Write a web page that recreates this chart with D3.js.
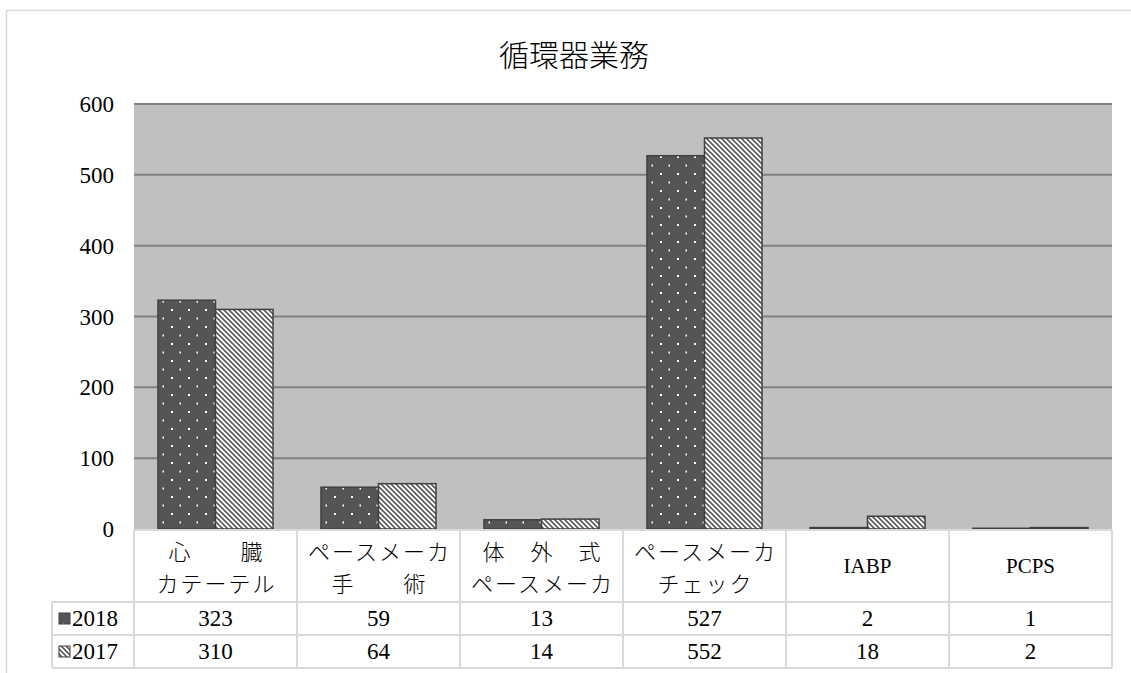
<!DOCTYPE html>
<html>
<head>
<meta charset="utf-8">
<script src="https://cdn.jsdelivr.net/npm/d3@7"></script>
<style>
  html, body { margin: 0; padding: 0; background: #fff; }
  svg { display: block; }
</style>
</head>
<body>
<svg id="chart" width="1131" height="673"></svg>
<script>
// 循環器業務: 2018年と2017年の件数
const chartTitle = "循環器業務";
const categories = ["心臓カテーテル", "ペースメーカ手術", "体外式ペースメーカ", "ペースメーカチェック", "IABP", "PCPS"];
// table header lines for each category
const headerLines = [
  ["心　　臓", "カテーテル"],
  ["ペースメーカ", "手　　術"],
  ["体　外　式", "ペースメーカ"],
  ["ペースメーカ", "チェック"],
  ["IABP"],
  ["PCPS"]
];
const seriesNames = ["2018", "2017"];
const values2018 = [323, 59, 13, 527, 2, 1];
const values2017 = [310, 64, 14, 552, 18, 2];
const yTicks = [0, 100, 200, 300, 400, 500, 600];

const SERIF = "'Liberation Serif'";
const JP = "'Noto Sans CJK JP'";

const svg = d3.select("#chart");
const defs = svg.append("defs");

// dotted fill for 2018
const dots = defs.append("pattern").attr("id", "dots").attr("patternUnits", "userSpaceOnUse")
  .attr("width", 17).attr("height", 17);
dots.append("rect").attr("width", 17).attr("height", 17).attr("fill", "#555555");
dots.append("rect").attr("x", 3).attr("y", 3).attr("width", 2).attr("height", 2).attr("fill", "#ffffff");
dots.append("rect").attr("x", 11.5).attr("y", 11.5).attr("width", 1.5).attr("height", 2).attr("fill", "#ffffff");

// diagonal stripes for 2017
const stripes = defs.append("pattern").attr("id", "stripes").attr("patternUnits", "userSpaceOnUse")
  .attr("width", 5).attr("height", 5);
stripes.append("rect").attr("width", 5).attr("height", 5).attr("fill", "#ffffff");
stripes.append("path").attr("d", "M-1,-1 L6,6 M-1,4 L1,6 M4,-1 L6,1")
  .attr("stroke", "#5a5a5a").attr("stroke-width", 1.6);

const fills = { "2018": "url(#dots)", "2017": "url(#stripes)" };
const seriesData = { "2018": values2018, "2017": values2017 };

// outer chart frame
svg.append("rect").attr("x", 6.5).attr("y", 10.5).attr("width", 1140).attr("height", 700)
  .attr("fill", "none").attr("stroke", "#d9d9d9").attr("stroke-width", 1.5);

// title
svg.append("text").attr("font-family", JP).attr("font-weight", 300)
  .attr("x", 574).attr("y", 66)
  .attr("text-anchor", "middle").attr("font-size", 30).attr("fill", "#000")
  .text(chartTitle);

const plot = { left: 134, right: 1112, top: 104, bottom: 529 };

const x0 = d3.scaleBand().domain(categories).range([plot.left, plot.right]).paddingInner(0).paddingOuter(0);
const x1 = d3.scaleBand().domain(seriesNames).range([0, x0.bandwidth()]).paddingInner(0).paddingOuter(0.417);
const y = d3.scaleLinear().domain([0, 600]).range([plot.bottom, plot.top]);

// plot background
svg.append("rect").attr("x", plot.left).attr("y", plot.top)
  .attr("width", plot.right - plot.left).attr("height", plot.bottom - plot.top)
  .attr("fill", "#c0c0c0");

// gridlines
svg.append("g").selectAll("line").data(yTicks.filter(d => d > 0)).join("line")
  .attr("x1", plot.left).attr("x2", plot.right)
  .attr("y1", d => y(d)).attr("y2", d => y(d))
  .attr("stroke", "#808080").attr("stroke-width", 2);

// y axis labels
const yAxis = d3.axisLeft(y).tickValues(yTicks).tickSize(0).tickPadding(20);
const yg = svg.append("g").attr("transform", `translate(${plot.left},0)`).call(yAxis);
yg.select(".domain").remove();
yg.attr("font-family", SERIF).attr("font-size", 23);
yg.selectAll("text").attr("fill", "#000").attr("dy", "0.33em");

// bars
const groups = svg.append("g").selectAll("g").data(categories).join("g")
  .attr("transform", d => `translate(${x0(d)},0)`);
groups.selectAll("rect").data((c, i) => seriesNames.map(s => ({ s, v: seriesData[s][i] }))).join("rect")
  .attr("x", d => x1(d.s))
  .attr("y", d => y(d.v))
  .attr("width", x1.bandwidth())
  .attr("height", d => y(0) - y(d.v))
  .attr("fill", d => fills[d.s])
  .attr("stroke", "#404040").attr("stroke-width", 1.5);

// data table
const rowTop = 530, headerBottom = 602, rowH = 33;
const legendLeft = 52;
const tbl = svg.append("g");
const lineColor = "#d9d9d9";
const hLines = [
  { y: rowTop, x1: plot.left, x2: plot.right },
  { y: headerBottom, x1: legendLeft, x2: plot.right },
  { y: headerBottom + rowH, x1: legendLeft, x2: plot.right },
  { y: headerBottom + 2 * rowH, x1: legendLeft, x2: plot.right }
];
tbl.selectAll("line.h").data(hLines).join("line").attr("class", "h")
  .attr("x1", d => d.x1).attr("x2", d => d.x2).attr("y1", d => d.y).attr("y2", d => d.y)
  .attr("stroke", lineColor).attr("stroke-width", 2);
const vEdges = categories.map(c => x0(c)).concat([plot.right]);
tbl.selectAll("line.v").data(vEdges).join("line").attr("class", "v")
  .attr("x1", d => d).attr("x2", d => d).attr("y1", rowTop).attr("y2", headerBottom + 2 * rowH)
  .attr("stroke", lineColor).attr("stroke-width", 2);
tbl.append("line").attr("x1", legendLeft).attr("x2", legendLeft)
  .attr("y1", headerBottom).attr("y2", headerBottom + 2 * rowH)
  .attr("stroke", lineColor).attr("stroke-width", 2);

// header labels
categories.forEach((c, i) => {
  const cx = x0(c) + x0.bandwidth() / 2;
  const lines = headerLines[i];
  if (lines.length === 1) {
    tbl.append("text").attr("font-family", SERIF).attr("font-size", 21)
      .attr("x", cx).attr("y", 573).attr("text-anchor", "middle").text(lines[0]);
  } else {
    lines.forEach((t, k) => {
      tbl.append("text").attr("font-family", JP).attr("font-weight", 300)
        .attr("font-size", 22).attr("letter-spacing", 2)
        .attr("x", cx + 1).attr("y", 560 + k * 32)
        .attr("text-anchor", "middle").text(t);
    });
  }
});

// value rows with legend keys
seriesNames.forEach((s, r) => {
  const top = headerBottom + r * rowH;
  tbl.append("rect").attr("x", 59).attr("y", top + 11).attr("width", 11).attr("height", 11)
    .attr("fill", fills[s]).attr("stroke", "#404040").attr("stroke-width", 1);
  tbl.append("text").attr("font-family", SERIF).attr("font-size", 23)
    .attr("x", 72).attr("y", top + 24).text(s);
  categories.forEach((c, i) => {
    tbl.append("text").attr("font-family", SERIF).attr("font-size", 23)
      .attr("x", x0(c) + x0.bandwidth() / 2).attr("y", top + 24)
      .attr("text-anchor", "middle").text(seriesData[s][i]);
  });
});
</script>
</body>
</html>
